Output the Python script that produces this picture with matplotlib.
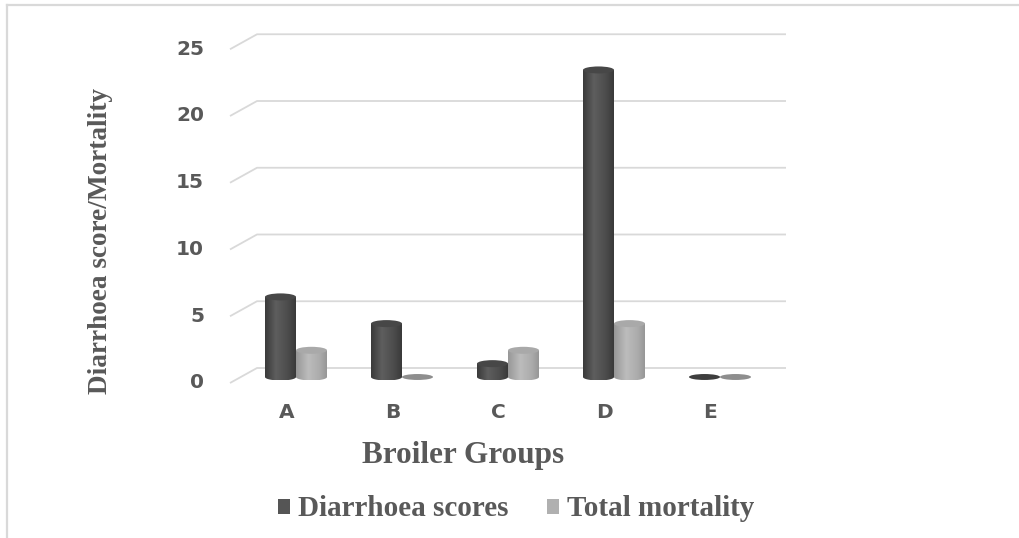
import matplotlib
matplotlib.use('Agg')
import matplotlib.pyplot as plt
import numpy as np
from matplotlib.colors import LinearSegmentedColormap
from matplotlib.patches import Ellipse, Polygon, Patch
from matplotlib.lines import Line2D

# dados do grafico
grupos = ['A', 'B', 'C', 'D', 'E']
diarrhoea_scores = [6, 4, 1, 23, 0]
total_mortality = [2, 0, 2, 4, 0]
y_ticks = [0, 5, 10, 15, 20, 25]

# escala em pixels (eixo ocupa a figura inteira)
W, H = 1019, 538
PX = 106.0      # pixels por categoria
PY = 13.35      # pixels por unidade
X0, Y0 = 296, 377   # pixel do grupo A / base das barras

cinza_texto = '#595959'
cinza_grade = '#d9d9d9'

fig = plt.figure(figsize=(W / 100, H / 100), dpi=100)
ax = fig.add_axes([0, 0, 1, 1])
ax.set_axis_off()

# parede do fundo: linhas de grade com a diagonal da perspectiva
prof = 9 / PY
diag = 15 / PY
x_frente = (230 - X0) / PX
x_fundo = (257 - X0) / PX
x_fim = (786 - X0) / PX
for v in y_ticks:
    ax.plot([x_frente, x_fundo, x_fim], [v + prof - diag, v + prof, v + prof],
            color=cinza_grade, lw=1.3, zorder=1, solid_capstyle='butt')
    ax.text((204 - X0) / PX, v + prof - diag, str(v), ha='right', va='center',
            fontsize=14.5, fontweight='bold', color=cinza_texto, family='DejaVu Sans')

larg = 31 / PX
elip = 7 / PY

cmap_escuro = LinearSegmentedColormap.from_list(
    'escuro', [(0, '#3a3a3a'), (0.35, '#5e5e5e'), (0.75, '#4c4c4c'), (1, '#3a3a3a')])
cmap_claro = LinearSegmentedColormap.from_list(
    'claro', [(0, '#989898'), (0.4, '#bcbcbc'), (0.8, '#aaaaaa'), (1, '#969696')])


def cilindro(xc, h, cmap, cor_topo, cor_plana):
    if h == 0:
        ax.add_patch(Ellipse((xc, 0), larg, elip * 0.85, facecolor=cor_plana,
                             edgecolor='none', zorder=3))
        return
    x0, x1 = xc - larg / 2, xc + larg / 2
    t = np.linspace(0, -np.pi, 40)
    arco = np.column_stack([xc + larg / 2 * np.cos(t), elip / 2 * np.sin(t)])
    contorno = np.vstack([[[x0, h], [x1, h]], arco])
    corpo = Polygon(contorno, closed=True, facecolor='none', edgecolor='none')
    ax.add_patch(corpo)
    grad = np.linspace(0, 1, 64).reshape(1, -1)
    img = ax.imshow(grad, cmap=cmap, extent=(x0, x1, -elip / 2, h),
                    aspect='auto', origin='lower', zorder=3, interpolation='bilinear')
    img.set_clip_path(corpo)
    ax.add_patch(Ellipse((xc, h), larg, elip, facecolor=cor_topo,
                         edgecolor='none', zorder=4))


for i in range(len(grupos)):
    cilindro(i - larg / 2, diarrhoea_scores[i], cmap_escuro, '#474747', '#3e3e3e')
    cilindro(i + larg / 2, total_mortality[i], cmap_claro, '#a9a9a9', '#8e8e8e')
    ax.text(i - 0.09, (Y0 - 412) / PY, grupos[i], ha='center', va='center',
            fontsize=14.5, fontweight='bold', color=cinza_texto, family='DejaVu Sans')

# titulos dos eixos
ax.text((463 - X0) / PX, (Y0 - 456) / PY, 'Broiler Groups', ha='center', va='center',
        fontsize=22.5, fontweight='bold', color=cinza_texto, family='Liberation Serif')
ax.text((101 - X0) / PX, (Y0 - 241) / PY, 'Diarrhoea score/Mortality', ha='center',
        va='center', rotation=90, fontsize=19.6, fontweight='bold', color=cinza_texto,
        family='Liberation Serif')

ax.set_xlim(-X0 / PX, (W - X0) / PX)
ax.set_ylim(-(H - Y0) / PY, Y0 / PY)

# legenda
alcas = [Patch(facecolor='#555555', edgecolor='none'),
         Patch(facecolor='#b0b0b0', edgecolor='none')]
fig.legend(alcas, ['Diarrhoea scores', 'Total mortality'], loc='center',
           bbox_to_anchor=(516 / W, 1 - 509 / H), ncol=2, frameon=False,
           prop={'family': 'Liberation Serif', 'weight': 'bold', 'size': 21},
           labelcolor=cinza_texto, handlelength=0.42, handleheight=0.42,
           handletextpad=0.28, columnspacing=1.3)

# moldura (topo e esquerda)
fig.add_artist(Line2D([7 / W, 1], [1 - 5 / H, 1 - 5 / H], color=cinza_grade, lw=1.6))
fig.add_artist(Line2D([7 / W, 7 / W], [0, 1 - 5 / H], color=cinza_grade, lw=1.6))

fig.savefig('out.png', dpi=100, facecolor='white')
